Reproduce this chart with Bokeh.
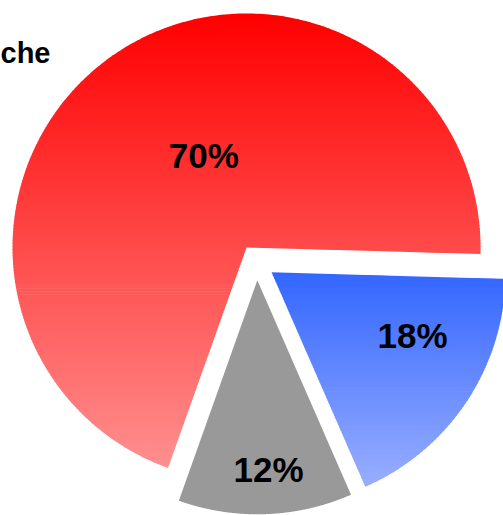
import numpy as np
from bokeh.plotting import figure
from bokeh.models import Range1d
from bokeh.core.properties import value
from bokeh.embed import file_html
from bokeh.resources import INLINE

# ---------------- data ----------------
title_text = "che"
shares = [70, 18, 12]
share_labels = ["70%", "18%", "12%"]

# ---------------- style / layout ----------------
R = 234.0              # pie radius (px units)
EXPLODE = 18.0         # offset of every slice
START_DEG = 250.4      # slices drawn clockwise from here
grad_top = ["#FF0000", "#3366FF", "#999999"]
grad_bottom = ["#FF8F8F", "#99AEFF", "#999999"]
label_dist = [101.6, 154.4, 189.5]
label_shift = [-9.5, 9.9, 1.4]
FONT = "Liberation Sans"
W, H = 503, 515
CX, CY = 256.2, 261.8   # pie centre in page pixels


def hex2rgb(h):
    h = h.lstrip("#")
    return np.array([int(h[i:i + 2], 16) for i in (0, 2, 4)], dtype=float)


def rgb2hex(c):
    c = np.clip(np.round(c), 0, 255).astype(int)
    return "#%02x%02x%02x" % tuple(c)


def clip_half(pts, y0, keep_above):
    out = []
    n = len(pts)
    if n == 0:
        return out
    for i in range(n):
        P = pts[i]
        Q = pts[(i + 1) % n]
        pin = P[1] >= y0 if keep_above else P[1] <= y0
        qin = Q[1] >= y0 if keep_above else Q[1] <= y0
        if pin:
            out.append(P)
        if pin != qin:
            t = (y0 - P[1]) / (Q[1] - P[1])
            out.append((P[0] + t * (Q[0] - P[0]), y0))
    return out


p = figure(width=W, height=H, output_backend="svg", toolbar_location=None,
           x_axis_type=None, y_axis_type=None, min_border=0,
           x_range=Range1d(-CX, W - CX), y_range=Range1d(CY - H, CY))
p.outline_line_color = None
p.grid.visible = False
p.background_fill_color = "white"
p.border_fill_color = "white"

total = float(sum(shares))
cursor = START_DEG
lab_x, lab_y = [], []
for k, s in enumerate(shares):
    a1 = cursor
    a0 = cursor - s / total * 360.0
    cursor = a0
    mid = np.radians((a0 + a1) / 2.0)
    cx = EXPLODE * np.cos(mid)
    cy = EXPLODE * np.sin(mid)
    th = np.radians(np.linspace(a0, a1, 300))
    poly = [(cx, cy)] + list(zip(cx + R * np.cos(th), cy + R * np.sin(th)))
    if grad_top[k] == grad_bottom[k]:
        p.patch(x=[q[0] for q in poly], y=[q[1] for q in poly],
                fill_color=grad_top[k], line_color=None)
    else:
        ys_all = [q[1] for q in poly]
        ymin, ymax = min(ys_all), max(ys_all)
        ctop, cbot = hex2rgb(grad_top[k]), hex2rgb(grad_bottom[k])
        nb = int((ymax - ymin) / 3.0) + 1
        h = (ymax - ymin) / nb
        bxs, bys, bcol = [], [], []
        for i in range(nb):
            lo = ymin + i * h
            hi = lo + h
            c = clip_half(poly, lo - 0.35, True)
            c = clip_half(c, hi + 0.35, False)
            if len(c) < 3:
                continue
            t = (ymax - (lo + hi) / 2.0) / (ymax - ymin)
            bxs.append([q[0] for q in c])
            bys.append([q[1] for q in c])
            bcol.append(rgb2hex(ctop + t * (cbot - ctop)))
        p.patches(xs=bxs, ys=bys, fill_color=bcol, line_color=None)

    la = mid + np.radians(label_shift[k])
    lab_x.append(cx + label_dist[k] * np.cos(la))
    lab_y.append(cy + label_dist[k] * np.sin(la))

p.text(x=lab_x, y=lab_y, text=share_labels, text_align="center",
       text_baseline="middle", text_font=value(FONT), text_font_style="bold",
       text_font_size="35px", text_color="black")

p.text(x=[-CX], y=[CY - 52], text=[title_text], text_align="left",
       text_baseline="middle", text_font=value(FONT), text_font_style="bold",
       text_font_size="29px", text_color="black")

open("out.html", "w").write(file_html(p, INLINE))
